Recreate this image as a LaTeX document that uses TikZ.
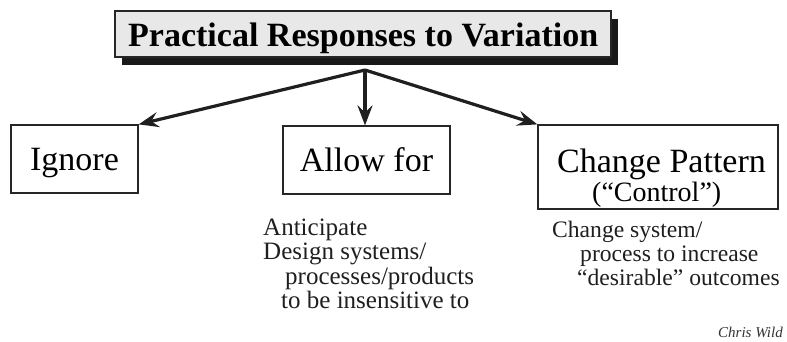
\documentclass[tikz,border=0pt]{standalone}
\usepackage{fontspec}
\setmainfont{Liberation Serif}
\usetikzlibrary{arrows.meta,shadows}
\newcommand{\fs}[1]{\fontsize{#1}{#1}\selectfont}
\tikzset{
  titlebox/.style={draw=black!85, line width=1.6pt, fill=black!9, inner sep=0pt,
    drop shadow={shadow xshift=7pt, shadow yshift=-8pt, opacity=1, fill=black!90}},
  choicebox/.style={draw=black!85, line width=1.2pt, inner sep=0pt, font=\fs{34}},
  boxtext/.style={anchor=base west, inner sep=0pt},
  link/.style={line width=3.2pt, draw=black!88,
    -{Stealth[length=20pt,width=15pt,inset=7pt]}},
  bodyline/.style={anchor=base west, inner sep=0pt, font=\fs{25}, text=black!88},
  noteline/.style={bodyline, font=\fs{23.6}},
}
\begin{document}
\begin{tikzpicture}[x=1pt,y=-1pt]
\useasboundingbox (0,0) rectangle (787,341);

% heading
\node[titlebox, minimum width=496pt, minimum height=46pt] (title) at (363,34) {};
\node[boxtext, font=\fs{34}\bfseries] (titletext) at (128,46)
  {Practical Responses to Variation};

% the three responses
\node[choicebox, minimum width=127pt, minimum height=68pt, text depth=0pt] (ignore) at (74.5,159) {Ignore};
\node[choicebox, minimum width=167pt, minimum height=68pt] (allow) at (366.5,160) {Allow for};
\node[choicebox, minimum width=240pt, minimum height=84pt] (change) at (658,167) {};
\node[boxtext, font=\fs{34}] (changetext) at (557,172) {Change Pattern};
\node[boxtext, font=\fs{28}] (controltext) at (592,201) {(“Control”)};

% connectors
\coordinate (hub) at (365,70);
\draw[link] (hub) -- (ignore.north east);
\draw[link] (hub) -- (hub |- allow.north);
\draw[link] (hub) -- (change.north west);

% notes under "Allow for"
\node[bodyline] (a1) at (263,235) {Anticipate};
\node[bodyline] (a2) at (263,259.5) {Design systems/};
\node[bodyline] (a3) at (285,284) {processes/products};
\node[bodyline] (a4) at (281,308.5) {to be insensitive to};

% notes under "Change Pattern"
\node[noteline] (c1) at (552,237) {Change system/};
\node[noteline] (c2) at (580,261) {process to increase};
\node[noteline] (c3) at (577,285) {“desirable” outcomes};

% signature
\node[anchor=base east, inner sep=0pt, font=\fs{15}\itshape, text=black!80] (sig) at (783,337) {Chris Wild};
\end{tikzpicture}
\end{document}
